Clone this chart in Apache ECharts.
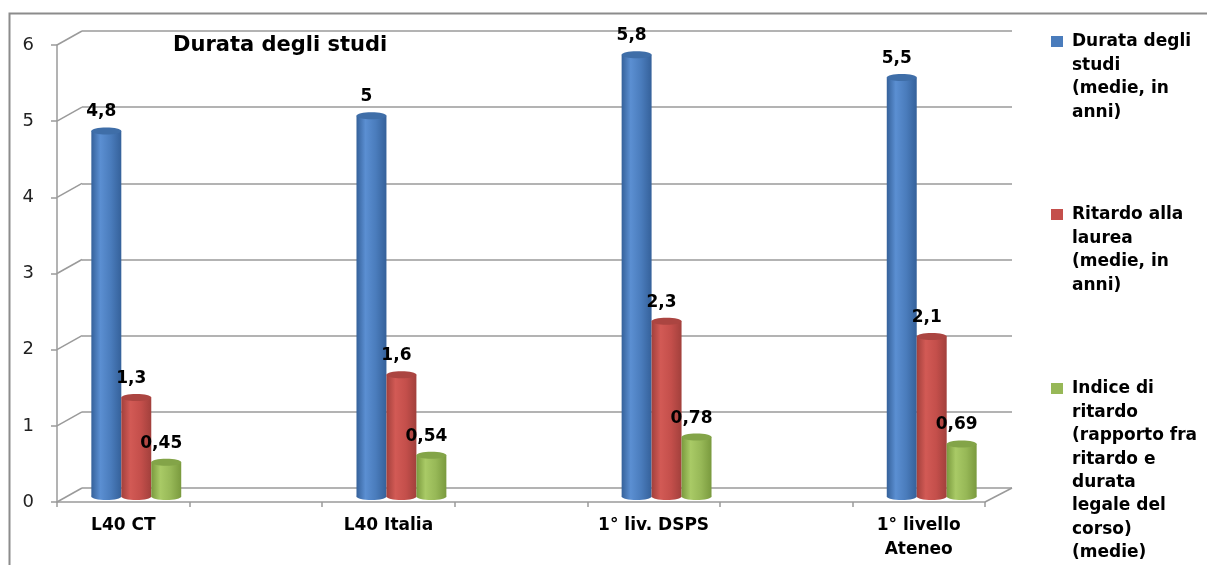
<!DOCTYPE html>
<html>
<head>
<meta charset="utf-8">
<script src="https://cdn.jsdelivr.net/npm/echarts@6/dist/echarts.min.js"></script>
<style>
  html, body { margin: 0; padding: 0; background: #fff; }
  #chart { width: 1207px; height: 565px; }
</style>
</head>
<body>
<div id="chart"></div>
<script>
// dati del grafico
var categories = ['L40 CT', 'L40 Italia', '1° liv. DSPS', '1° livello\nAteneo'];
var seriesNames = [
    'Durata degli\nstudi\n(medie, in\nanni)',
    'Ritardo alla\nlaurea\n(medie, in\nanni)',
    'Indice di\nritardo\n(rapporto fra\nritardo e\ndurata\nlegale del\ncorso)\n(medie)'
];
var durata = [4.8, 5, 5.8, 5.5];
var ritardo = [1.3, 1.6, 2.3, 2.1];
var indice = [0.45, 0.54, 0.78, 0.69];
var yTicks = [0, 1, 2, 3, 4, 5, 6];

var FONT = '"DejaVu Sans", "Noto Sans", sans-serif';
var colors = [
    {edge: '#35619a', light: '#5b8fd2', mid: '#4a7cbc', top: '#3f6ea8'},
    {edge: '#a2403c', light: '#d25a55', mid: '#c44f4b', top: '#ab4541'},
    {edge: '#7a9a3e', light: '#a9ca66', mid: '#97b857', top: '#83a448'}
];
var legendY = [42, 215, 389];

// l'asse ha 7 posizioni: una categoria ogni due, le altre vuote
var slots = [];
categories.forEach(function (c, i) {
    slots.push(c);
    if (i < categories.length - 1) slots.push('');
});

function toSlotData(values, s) {
    return values.map(function (v, i) { return [i * 2, v, s]; });
}
var allValues = [durata, ritardo, indice];

/**
 * disegna un cilindro per ogni valore
 */
function renderCylinder(params, api) {
    var slot = api.value(0), val = api.value(1), s = api.value(2);
    var slotW = api.size([1, 0])[0];
    var bw = slotW * 0.226;
    var c = api.coord([slot, val]);
    var base = api.coord([slot, 0]);
    var cx = c[0] + (s - 1) * bw;
    var x0 = cx - bw / 2;
    var ry = 3.5;
    var col = colors[s];
    var grad = new echarts.graphic.LinearGradient(0, 0, 1, 0, [
        {offset: 0, color: col.edge},
        {offset: 0.3, color: col.light},
        {offset: 0.65, color: col.mid},
        {offset: 1, color: col.edge}
    ]);
    var label = String(val).replace('.', ',');
    return {
        type: 'group',
        children: [
            {type: 'ellipse', shape: {cx: cx, cy: base[1], rx: bw / 2, ry: ry}, style: {fill: grad}},
            {type: 'rect', shape: {x: x0, y: c[1], width: bw, height: base[1] - c[1]}, style: {fill: grad}},
            {type: 'ellipse', shape: {cx: cx, cy: c[1], rx: bw / 2, ry: ry}, style: {fill: col.top}},
            {type: 'text', style: {
                text: label, x: cx - 5, y: c[1] - 19,
                align: 'center', verticalAlign: 'middle',
                font: 'bold 17px ' + FONT, fill: '#000'
            }}
        ]
    };
}

/**
 * diagonali delle pareti (effetto 3D)
 */
function renderWall(params, api) {
    var v = api.value(1);
    var cs = params.coordSys;
    var y = api.coord([0, v])[1];
    var lines = [{type: 'line', shape: {x1: cs.x, y1: y, x2: cs.x + 25, y2: y - 14},
        style: {stroke: '#9a9a9a', lineWidth: 1.5}}];
    if (v === 0) {
        lines.push({type: 'line', shape: {x1: cs.x + cs.width, y1: y, x2: cs.x + cs.width + 27, y2: y - 14},
            style: {stroke: '#9a9a9a', lineWidth: 1.5}});
    }
    return {type: 'group', children: lines};
}

var series = [{
    type: 'custom',
    xAxisIndex: 0, yAxisIndex: 0,
    renderItem: renderWall,
    data: yTicks.map(function (v) { return [0, v]; }),
    silent: true
}];
allValues.forEach(function (vals, s) {
    series.push({
        type: 'custom',
        name: seriesNames[s],
        xAxisIndex: 2, yAxisIndex: 2,
        renderItem: renderCylinder,
        data: toSlotData(vals, s)
    });
});

// legenda costruita a mano (marcatore allineato alla prima riga)
var legendGraphics = [];
seriesNames.forEach(function (name, s) {
    legendGraphics.push({
        type: 'rect', left: 1051, top: legendY[s] - 6,
        shape: {width: 12, height: 11}, style: {fill: colors[s].mid}
    });
    legendGraphics.push({
        type: 'text', left: 1072, top: legendY[s] - 11.7,
        style: {text: name, font: 'bold 17px ' + FONT, lineHeight: 23.4, fill: '#000'}
    });
});

var option = {
    backgroundColor: '#fff',
    animation: false,
    title: {
        text: 'Durata degli studi',
        left: 173, top: 35, padding: 0,
        textStyle: {fontFamily: FONT, fontSize: 21, fontWeight: 'bold', color: '#000'}
    },
    graphic: [{
        type: 'rect', left: 7, top: 11,
        shape: {width: 1260, height: 620},
        style: {fill: 'none', stroke: '#8c8c8c', lineWidth: 2}
    }].concat(legendGraphics),
    grid: [
        {left: 57, top: 45, width: 928, height: 457},   // piano frontale
        {left: 82, top: 31, width: 930, height: 457},   // parete di fondo
        {left: 70, top: 39.5, width: 928, height: 457}  // cilindri
    ],
    xAxis: [{
        gridIndex: 0, type: 'category', data: slots, boundaryGap: true,
        axisLine: {lineStyle: {color: '#9a9a9a', width: 1.5}},
        axisTick: {show: true, interval: 0, length: 5, lineStyle: {color: '#9a9a9a', width: 1.5}},
        axisLabel: {interval: 0, margin: 12, color: '#000', fontFamily: FONT, fontSize: 17,
            fontWeight: 'bold', lineHeight: 24}
    }, {
        gridIndex: 1, type: 'category', data: slots, show: false
    }, {
        gridIndex: 2, type: 'category', data: slots, show: false
    }],
    yAxis: [{
        gridIndex: 0, type: 'value', min: 0, max: 6, interval: 1,
        splitLine: {show: false},
        axisLine: {show: true, lineStyle: {color: '#9a9a9a', width: 1.5}},
        axisTick: {show: true, length: 6, lineStyle: {color: '#9a9a9a', width: 1.5}},
        axisLabel: {margin: 23, color: '#222', fontFamily: FONT, fontSize: 18}
    }, {
        gridIndex: 1, type: 'value', min: 0, max: 6, interval: 1,
        axisLine: {show: false}, axisTick: {show: false}, axisLabel: {show: false},
        splitLine: {show: true, lineStyle: {color: '#9a9a9a', width: 1.5}}
    }, {
        gridIndex: 2, type: 'value', min: 0, max: 6, interval: 1, show: false,
        splitLine: {show: false}
    }],
    series: series
};

var myChart = echarts.init(document.getElementById('chart'));
myChart.setOption(option);
</script>
</body>
</html>
